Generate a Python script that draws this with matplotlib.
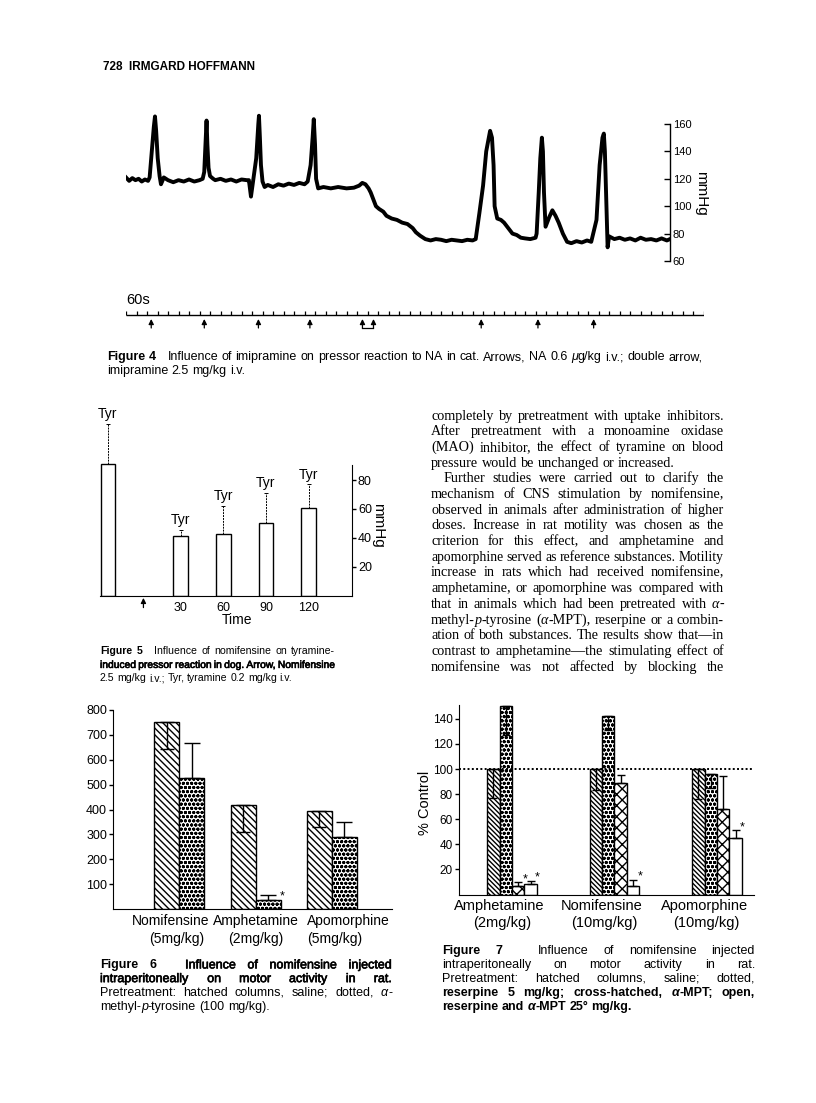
import matplotlib
matplotlib.use('Agg')
import matplotlib.pyplot as plt
import matplotlib.patheffects as pe

W, H = 816, 1103
SANS = 'Liberation Sans'
SERIF = 'Liberation Serif'

# ---------------- data ----------------
# Figure 4: blood pressure trace, time in 60 s ticks, pressure in mmHg
trace = [(0, 121), (0.3, 118.5), (0.6, 120.5), (0.9, 119), (1.2, 120), (1.5, 118), (1.8, 119.5),
         (2.1, 118.5), (2.25, 121), (2.46, 140), (2.65, 158), (2.76, 165.5), (2.87, 155), (3.02, 135),
         (3.2, 122), (3.33, 116), (3.6, 121), (4.0, 119), (4.5, 117.5), (5.0, 119), (5.5, 118),
         (6.0, 119.5), (6.5, 118), (7.0, 119), (7.3, 120), (7.45, 125), (7.6, 150), (7.67, 162.5),
         (7.75, 145), (7.86, 128), (8.0, 122), (8.3, 120), (8.5, 119), (9.0, 120), (9.5, 118.5),
         (10.0, 119.5), (10.5, 118), (11.0, 119.5), (11.5, 119), (11.7, 119), (11.9, 107), (12.1, 118),
         (12.4, 135), (12.6, 160), (12.66, 166), (12.75, 150), (12.85, 130), (13.0, 118), (13.2, 114),
         (13.5, 115.5), (14.0, 114), (14.5, 116), (15.0, 115), (15.5, 116.5), (16.0, 115.5), (16.5, 117),
         (17.0, 116), (17.3, 118), (17.58, 130), (17.77, 150), (17.88, 163.5), (18.0, 145), (18.1, 120),
         (18.3, 113), (18.8, 114), (19.5, 113), (20.2, 114), (21.0, 113), (21.7, 113.5), (22.2, 115),
         (22.5, 117), (22.8, 116), (23.1, 113), (23.3, 110), (23.6, 104), (23.8, 100), (24.1, 98),
         (24.5, 96), (24.8, 93), (25.3, 91), (25.8, 90), (26.3, 88), (26.8, 87), (27.3, 84), (27.6, 81),
         (28.0, 78.5), (28.5, 76), (29.0, 75), (29.5, 76), (30.0, 75.5), (30.5, 74.5), (31.0, 75.5),
         (31.5, 75), (32.0, 74.5), (32.5, 75.5), (33.0, 75), (33.3, 76), (33.65, 95), (34.0, 115),
         (34.3, 140), (34.67, 155), (34.85, 150), (35.0, 130), (35.1, 100), (35.35, 91), (35.7, 90),
         (36.0, 88), (36.4, 84), (36.8, 80), (37.2, 79), (37.6, 77), (38.0, 76.5), (38.5, 76), (39.0, 77),
         (39.1, 80), (39.3, 110), (39.45, 135), (39.6, 150), (39.7, 140), (39.8, 110), (39.95, 85),
         (40.3, 92), (40.6, 97), (40.9, 93), (41.2, 88), (41.6, 80), (42.0, 74), (42.4, 73), (42.9, 74.5),
         (43.4, 73.5), (43.9, 75), (44.3, 74), (44.8, 90), (45.1, 130), (45.37, 150), (45.5, 153),
         (45.6, 140), (45.75, 100), (45.86, 70), (46.0, 78), (46.5, 76), (47.0, 77), (47.5, 75.5),
         (48.0, 76.5), (48.5, 75), (49.0, 77), (49.5, 75.5), (50.0, 76), (50.5, 75), (51.0, 76.5),
         (51.5, 75), (51.8, 76)]
na_times = [2.4, 7.45, 12.6, 17.5, 33.8, 39.2, 44.5]
imip_times = [22.5, 23.55]
bp_ticks = [60, 80, 100, 120, 140, 160]
n_minutes = 55

# Figure 5: tyramine pressor response (mmHg)
tyr_times = ['', '30', '60', '90', '120']
tyr_mean = [91, 41, 42.5, 50.5, 60.5]
tyr_err = [28, 4.5, 19.5, 20.5, 16.5]
tyr_ticks = [20, 40, 60, 80]

# Figure 6: motor activity
f6_names = ['Nomifensine', 'Amphetamine', 'Apomorphine']
f6_doses = ['(5mg/kg)', '(2mg/kg)', '(5mg/kg)']
f6_saline = [752, 420, 395]
f6_saline_err = [107, 110, 65]
f6_ampt = [525, 36, 290]
f6_ampt_err = [143, 19, 60]
f6_ticks = [100, 200, 300, 400, 500, 600, 700, 800]

# Figure 7: % control
f7_names = ['Amphetamine', 'Nomifensine', 'Apomorphine']
f7_doses = ['(2mg/kg)', '(10mg/kg)', '(10mg/kg)']
f7_saline = [100, 100, 100]
f7_saline_err = [23, 17, 24]
f7_reserpine = [150, 142, 96]
f7_reserpine_err = [23, 11, 11]
f7_ampt = [7, 88.5, 68.5]
f7_ampt_err = [2.6, 6.5, 26]
f7_both = [8.5, 7, 45]
f7_both_err = [2.6, 4.7, 6]
f7_ticks = [20, 40, 60, 80, 100, 120, 140]

header = '728  IRMGARD HOFFMANN'
cap4 = ['Figure 4  Influence of imipramine on pressor reaction to NA in cat. Arrows, NA 0.6 _\u03bc_g/kg i.v.; double arrow,',
        'imipramine 2.5 mg/kg i.v.']
cap5 = ['Figure 5  Influence of nomifensine on tyramine-',
        'induced pressor reaction in dog. Arrow, Nomifensine',
        '2.5 mg/kg i.v.; Tyr, tyramine 0.2 mg/kg i.v.']
cap6 = ['Figure 6  Influence of nomifensine injected',
        'intraperitoneally on motor activity in rat.',
        'Pretreatment: hatched columns, saline; dotted, _\u03b1_-',
        'methyl-_p_-tyrosine (100 mg/kg).']
cap7 = ['Figure 7  Influence of nomifensine injected',
        'intraperitoneally on motor activity in rat.',
        'Pretreatment: hatched columns, saline; dotted,',
        'reserpine 5 mg/kg; cross-hatched, _\u03b1_-MPT; open,',
        'reserpine and _\u03b1_-MPT 25\u00b0 mg/kg.']
body = ['completely by pretreatment with uptake inhibitors.',
        'After pretreatment with a monoamine oxidase',
        '(MAO) inhibitor, the effect of tyramine on blood',
        'pressure would be unchanged or increased.',
        'Further studies were carried out to clarify the',
        'mechanism of CNS stimulation by nomifensine,',
        'observed in animals after administration of higher',
        'doses. Increase in rat motility was chosen as the',
        'criterion for this effect, and amphetamine and',
        'apomorphine served as reference substances. Motility',
        'increase in rats which had received nomifensine,',
        'amphetamine, or apomorphine was compared with',
        'that in animals which had been pretreated with _\u03b1_-',
        'methyl-_p_-tyrosine (_\u03b1_-MPT), reserpine or a combin-',
        'ation of both substances. The results show that\u2014in',
        'contrast to amphetamine\u2014the stimulating effect of',
        'nomifensine was not affected by blocking the']

# ---------------- helpers ----------------
fig = plt.figure(figsize=(W / 100, H / 100), dpi=100)
fig.patch.set_facecolor('white')
renderer = fig.canvas.get_renderer()
heavy = [pe.withStroke(linewidth=0.45, foreground='black')]


def px_axes(x0, y0, x1, y1):
    return fig.add_axes([x0 / W, 1 - y1 / H, (x1 - x0) / W, (y1 - y0) / H])


def ftext(x, y, s, **kw):
    return fig.text(x / W, 1 - y / H, s, **kw)


def tw(s, **kw):
    t = fig.text(0, 0, s, **kw)
    w = t.get_window_extent(renderer).width
    t.remove()
    return w


def layout_words(line, size, family, bold, bold_n):
    items = []
    for i, word in enumerate(line.split(' ')):
        wt = 'bold' if (bold or i < bold_n) else 'normal'
        segs = []
        for k, part in enumerate(word.split('_')):
            if part:
                st = 'italic' if k % 2 else 'normal'
                segs.append((part, st, tw(part, size=size, family=family, weight=wt, style=st)))
        items.append((segs, wt))
    return items


def draw_line(x0, yc, line, x1=None, size=9, family=SANS, bold=False, bold_n=0, extra=0, dark=False):
    while True:
        items = layout_words(line, size, family, bold, bold_n)
        total = sum(s[2] for segs, _ in items for s in segs)
        sp = tw('a a', size=size, family=family) - tw('aa', size=size, family=family)
        gap = sp
        if x1 is not None and len(items) > 1:
            gap = (x1 - x0 - total - extra) / (len(items) - 1)
        if gap >= 0.75 * sp or size < 5:
            break
        size -= 0.2
    em = size * 100 / 72
    yb = yc + 0.33 * em
    x = x0
    for i, (segs, wt) in enumerate(items):
        for part, st, w in segs:
            t = ftext(x, yb, part, size=size, family=family, weight=wt, style=st,
                      ha='left', va='baseline')
            if dark and wt == 'normal':
                t.set_path_effects(heavy)
            x += w
        x += gap + (extra if i == bold_n - 1 else 0)


def label_at(ax, xd, y, s, **kw):
    xp = ax.transData.transform((xd, 0))[0]
    ftext(xp, y, s, **kw)


# ---------------- header ----------------
ftext(103, 67, header, size=8.5, family=SANS, weight='bold', va='center')

# ---------------- Figure 4 ----------------
ax4 = px_axes(126, 110, 670, 268)
ax4.plot([a for a, b in trace], [b for a, b in trace], color='black', lw=2.8)
ax4.set_xlim(0, 51.8)
ax4.set_ylim(54.9, 170.2)
for s in ['left', 'top', 'bottom']:
    ax4.spines[s].set_visible(False)
ax4.spines['right'].set_bounds(60, 160)
ax4.spines['right'].set_linewidth(1)
ax4.yaxis.tick_right()
ax4.set_yticks(bp_ticks)
ax4.set_xticks([])
ax4.tick_params(axis='y', direction='in', length=4, width=1, labelsize=8, pad=2)
for lab in ax4.get_yticklabels():
    lab.set_family(SANS)
ftext(701, 193, 'mmHg', size=11, family=SANS, rotation=270, ha='center', va='center')

axt = px_axes(126, 303, 704, 333)
axt.set_xlim(0, n_minutes)
axt.set_ylim(30, 0)
axt.axis('off')
axt.hlines(12, 0, n_minutes, color='black', lw=1)
axt.vlines(range(n_minutes + 1), 8, 12, color='black', lw=0.9)
arrow_kw = dict(arrowstyle='-|>,head_length=0.3,head_width=0.15', lw=0.9, color='black',
                shrinkA=0, shrinkB=0)
for t in na_times + imip_times:
    axt.annotate('', xy=(t, 16), xytext=(t, 25), arrowprops=arrow_kw)
axt.plot(imip_times, [25, 25], color='black', lw=0.9)
ftext(126, 300, '60s', size=10.5, family=SANS, va='center')

draw_line(107, 356, cap4[0], x1=702, bold_n=2, extra=5)
draw_line(107, 370, cap4[1])

# ---------------- Figure 5 ----------------
ax5 = px_axes(100, 415, 351.7, 595.6)
tyr_pos = [0, 1.7, 2.7, 3.7, 4.7]
ax5.bar(tyr_pos, tyr_mean, width=0.34, facecolor='white', edgecolor='black', lw=1)
eb = ax5.errorbar(tyr_pos, tyr_mean, yerr=[[0] * 5, tyr_err], fmt='none', ecolor='black',
                  elinewidth=0.7, capsize=1.5, capthick=0.7)
eb[2][0].set_linestyle((0, (2, 1)))
for x, m, e in zip(tyr_pos, tyr_mean, tyr_err):
    ax5.annotate('Tyr', xy=(x, m + e), xytext=(0, 7), textcoords='offset points',
                 ha='center', va='center', size=10, family=SANS, annotation_clip=False)
ax5.annotate('', xy=(0.83, -1.6), xytext=(0.83, -8.3), arrowprops=arrow_kw, annotation_clip=False)
ax5.set_xlim(-0.187, 5.707)
ax5.set_ylim(0, 125)
ax5.spines['left'].set_visible(False)
ax5.spines['top'].set_visible(False)
ax5.spines['right'].set_bounds(0, 90.4)
ax5.yaxis.tick_right()
ax5.set_yticks(tyr_ticks)
ax5.set_xticks([])
ax5.tick_params(axis='y', direction='out', length=3, width=1, labelsize=9, pad=1.5)
for lab in ax5.get_yticklabels():
    lab.set_family(SANS)
for x, s in zip(tyr_pos, tyr_times):
    label_at(ax5, x, 608, s, size=9, family=SANS, ha='center', va='center')
ftext(236.7, 619.5, 'Time', size=10, family=SANS, ha='center', va='center')
ftext(378, 525, 'mmHg', size=11, family=SANS, rotation=270, ha='center', va='center')

for i, (ln, y) in enumerate(zip(cap5, [651, 664.5, 678])):
    draw_line(100, y, ln, x1=None if i == 2 else 335, bold_n=2 if i == 0 else 0,
              dark=(i == 1), extra=4 if i == 0 else 0, size=7.6)

# ---------------- body text ----------------
for i, ln in enumerate(body):
    last = i in (3,)
    x0 = 444 if i == 4 else 431
    draw_line(x0, 415 + 15.68 * i, ln, x1=None if last else 724, size=10.2, family=SERIF)

# ---------------- Figure 6 ----------------
ax6 = px_axes(113.3, 710, 392, 909)
g = range(3)
w6 = 0.328
ax6.bar([i - w6 / 2 for i in g], f6_saline, width=w6, facecolor='white', edgecolor='black',
        lw=1, hatch='\\\\\\\\\\')
ax6.bar([i + w6 / 2 for i in g], f6_ampt, width=w6, facecolor='white', edgecolor='black',
        lw=1, hatch='oooo')
ax6.errorbar([i - w6 / 2 for i in g], f6_saline, yerr=[f6_saline_err, [0] * 3], fmt='none',
             ecolor='black', elinewidth=1, capsize=5, capthick=1)
ax6.errorbar([i + w6 / 2 for i in g], f6_ampt, yerr=[[0] * 3, f6_ampt_err], fmt='none',
             ecolor='black', elinewidth=1, capsize=6, capthick=1)
ax6.annotate('*', xy=(1 + w6 / 2, f6_ampt[1] + f6_ampt_err[1]), xytext=(10, -1),
             textcoords='offset points', ha='center', va='center', size=9, family=SANS)
ax6.set_xlim(-0.866, 2.79)
ax6.set_ylim(0, 800)
ax6.spines['top'].set_visible(False)
ax6.spines['right'].set_visible(False)
ax6.set_yticks(f6_ticks)
ax6.set_xticks([])
ax6.tick_params(axis='y', direction='out', length=3, width=1, labelsize=9, pad=1.5)
for lab in ax6.get_yticklabels():
    lab.set_family(SANS)
f6_name_x = [-0.12, 1, 2 - w6]
f6_dose_x = [-0.04, 1, 2 - w6]
f6_lab_ha = ['center', 'center', 'left']
for xn, xd, ha, nm, ds in zip(f6_name_x, f6_dose_x, f6_lab_ha, f6_names, f6_doses):
    label_at(ax6, xn, 921, nm, size=10, family=SANS, ha=ha, va='center')
    label_at(ax6, xd, 939.5, ds, size=10, family=SANS, ha=ha, va='center')

for i, (ln, y) in enumerate(zip(cap6, [964.3, 978, 991.7, 1005.5])):
    draw_line(100, y, ln, x1=None if i == 3 else 392, bold_n=2 if i == 0 else 0,
              dark=(i <= 1), extra=5 if i == 0 else 0)

# ---------------- Figure 7 ----------------
ax7 = px_axes(459, 705, 754, 894.5)
w7 = 0.121
offs = [-1.5, -0.5, 0.5, 1.5]
series = [(f7_saline, f7_saline_err, '\\\\\\\\\\\\\\', 'down'),
          (f7_reserpine, f7_reserpine_err, 'oooo', 'down'),
          (f7_ampt, f7_ampt_err, 'xxx', 'up'),
          (f7_both, f7_both_err, '', 'up')]
for k, (vals, errs, hatch, d) in enumerate(series):
    xs = [i + offs[k] * w7 for i in g]
    ax7.bar(xs, vals, width=w7, facecolor='white', edgecolor='black', lw=1, hatch=hatch)
    yerr = [errs, [0] * 3] if d == 'down' else [[0] * 3, errs]
    ax7.errorbar(xs, vals, yerr=yerr, fmt='none', ecolor='black', elinewidth=1,
                 capsize=3, capthick=1)
ax7.axhline(100, color='black', lw=1.4, ls=(0, (1, 1.2)), zorder=5)
stars = [(0, 2), (0, 3), (1, 3), (2, 3)]
for gi, k in stars:
    vals, errs = series[k][0], series[k][1]
    ax7.annotate('*', xy=(gi + offs[k] * w7, vals[gi] + errs[gi]), xytext=(5, 2.5),
                 textcoords='offset points', ha='center', va='center', size=9, family=SANS)
ax7.set_xlim(-0.517, 2.361)
ax7.set_ylim(0, 151)
ax7.spines['top'].set_visible(False)
ax7.spines['right'].set_visible(False)
ax7.set_yticks(f7_ticks)
ax7.set_xticks([])
ax7.tick_params(axis='y', direction='out', length=3, width=1, labelsize=8.5, pad=1.5)
for lab in ax7.get_yticklabels():
    lab.set_family(SANS)
for i, (nm, ds) in enumerate(zip(f7_names, f7_doses)):
    label_at(ax7, i - 0.125, 906, nm, size=10.5, family=SANS, ha='center', va='center')
    label_at(ax7, i - 0.1, 923.3, ds, size=10.5, family=SANS, ha='center', va='center')
ftext(425, 803, '% Control', size=10.5, family=SANS, rotation=90, ha='center', va='center')

for i, (ln, y) in enumerate(zip(cap7, [950, 964, 977.7, 991.7, 1005.7])):
    draw_line(442, y, ln, x1=None if i == 4 else 755, bold_n=2 if i == 0 else 0,
              bold=(i >= 3), extra=5 if i == 0 else 0)

fig.savefig('out.png', dpi=100)
